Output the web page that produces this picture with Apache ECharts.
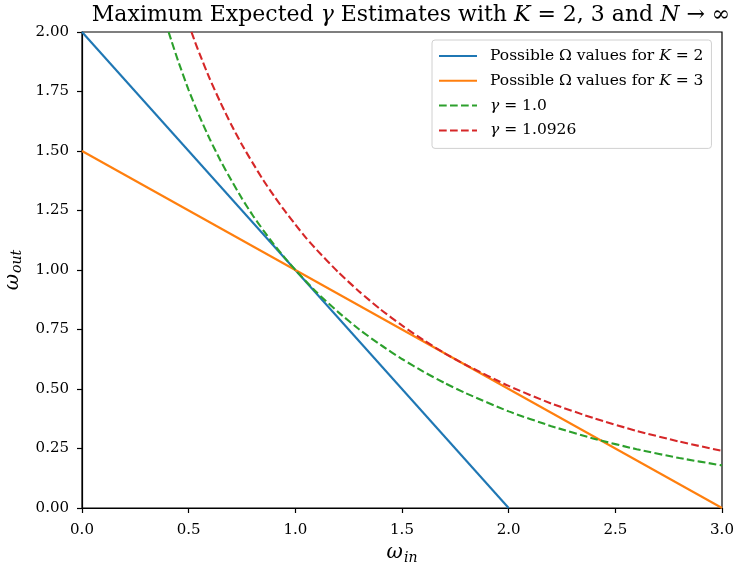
<!DOCTYPE html>
<html>
<head>
<meta charset="utf-8">
<script src="https://cdn.jsdelivr.net/npm/echarts@6/dist/echarts.min.js"></script>
<style>
  html, body { margin: 0; padding: 0; background: #fff; }
  #chart { width: 735px; height: 571px; }
</style>
</head>
<body>
<div id="chart"></div>
<script>
// Possible Omega values (straight lines)
const kTwoIn = [0, 2];
const kTwoOut = [2, 0];
const kThreeIn = [0, 3];
const kThreeOut = [1.5, 0];

// gamma = 1.0 iso-curve
const gammaOneIn = [0.406, 0.42, 0.45, 0.5, 0.55, 0.6, 0.65, 0.7, 0.75, 0.8, 0.85, 0.9, 0.95, 1.0,
  1.1, 1.2, 1.3, 1.4, 1.5, 1.6, 1.7, 1.8, 2.0, 2.2, 2.4, 2.6, 2.8, 3.0];
const gammaOneOut = [2.0, 1.961, 1.880, 1.756, 1.647, 1.548, 1.458, 1.377, 1.300, 1.230, 1.167, 1.107, 1.052, 1.0,
  0.906, 0.824, 0.750, 0.685, 0.626, 0.573, 0.525, 0.482, 0.406, 0.344, 0.291, 0.247, 0.210, 0.179];

// gamma = 1.0926 iso-curve
const gammaHiIn = [0.513, 0.53, 0.55, 0.6, 0.65, 0.7, 0.75, 0.8, 0.85, 0.9, 0.95, 1.0, 1.05, 1.1,
  1.2, 1.3, 1.4, 1.5, 1.6, 1.7, 1.8, 2.0, 2.2, 2.4, 2.6, 2.8, 3.0];
const gammaHiOut = [2.0, 1.958, 1.911, 1.801, 1.702, 1.610, 1.526, 1.450, 1.377, 1.311, 1.249, 1.191, 1.135, 1.085,
  0.992, 0.909, 0.834, 0.767, 0.706, 0.650, 0.601, 0.513, 0.439, 0.377, 0.324, 0.279, 0.240];

const xTicks = ['0.0', '0.5', '1.0', '1.5', '2.0', '2.5', '3.0'];
const yTicks = ['0.00', '0.25', '0.50', '0.75', '1.00', '1.25', '1.50', '1.75', '2.00'];

const seriesNames = ['kTwo', 'kThree', 'gOne', 'gHi'];

const zip = (xs, ys) => xs.map((x, i) => [x, ys[i]]);
const FONT = 'DejaVu Serif';

const chart = echarts.init(document.getElementById('chart'));

const legendLabels = {
  kTwo: '{n|Possible Ω values for }{i|K}{n| = 2}',
  kThree: '{n|Possible Ω values for }{i|K}{n| = 3}',
  gOne: '{i|γ}{n| = 1.0}',
  gHi: '{i|γ}{n| = 1.0926}'
};

const lineSeries = (name, data, color, dashed) => ({
  name,
  type: 'line',
  data,
  showSymbol: false,
  symbol: 'none',
  smooth: dashed ? 0.2 : false,
  clip: true,
  lineStyle: { color, width: 2.1, type: dashed ? [7.7, 3.3] : 'solid' },
  itemStyle: { color },
  emphasis: { disabled: true }
});

const mathRich = (size) => ({
  n: { fontFamily: FONT, fontSize: size, color: '#000', fontWeight: 'normal' },
  i: { fontFamily: FONT, fontSize: size, fontStyle: 'italic', color: '#000', fontWeight: 'normal' }
});

const nameRich = {
  w: { fontFamily: FONT, fontSize: 20, fontStyle: 'italic', color: '#000' },
  s: { fontFamily: FONT, fontSize: 14, fontStyle: 'italic', color: '#000', padding: [10, 0, 0, 1] }
};

chart.setOption({
  animation: false,
  backgroundColor: '#fff',
  title: {
    text: '{n|Maximum Expected }{i|γ}{n| Estimates with }{i|K}{n| = 2, 3 and }{i|N}{n| → ∞}',
    left: 406,
    top: -1,
    textAlign: 'center',
    textStyle: { fontWeight: 'normal', rich: mathRich(22) }
  },
  legend: {
    orient: 'vertical',
    left: 432,
    top: 40,
    padding: [8, 8, 10, 6],
    itemWidth: 38,
    itemHeight: 12,
    itemGap: 8.8,
    backgroundColor: 'rgba(255,255,255,0.8)',
    borderColor: '#d0d0d0',
    borderWidth: 1,
    borderRadius: 3,
    itemStyle: { opacity: 0 },
    data: seriesNames,
    formatter: (name) => legendLabels[name],
    textStyle: { padding: [0, 0, 0, 8], rich: mathRich(15.5) }
  },
  grid: {
    left: 82, right: 13, top: 32, bottom: 63,
    outerBoundsMode: 'none',
    containLabel: false,
    show: true, borderColor: '#000', borderWidth: 1.2, backgroundColor: 'transparent'
  },
  xAxis: {
    type: 'value',
    min: 0, max: 3, interval: 0.5,
    name: '{w|ω}{s|in}',
    nameLocation: 'middle',
    nameGap: 31,
    nameTextStyle: { rich: nameRich },
    axisLine: { show: true, lineStyle: { color: '#000', width: 1.2 } },
    axisTick: { show: true, length: 5, lineStyle: { color: '#000', width: 1.2 } },
    axisLabel: {
      color: '#000', fontFamily: FONT, fontSize: 15, margin: 15,
      formatter: (v) => xTicks[Math.round(v / 0.5)]
    },
    splitLine: { show: false }
  },
  yAxis: {
    type: 'value',
    min: 0, max: 2, interval: 0.25,
    name: '{w|ω}{s|out}',
    nameLocation: 'middle',
    nameRotate: 90,
    nameGap: 50,
    nameTextStyle: { rich: nameRich },
    axisLine: { show: true, lineStyle: { color: '#000', width: 1.2 } },
    axisTick: { show: true, length: 5, lineStyle: { color: '#000', width: 1.2 } },
    axisLabel: {
      color: '#000', fontFamily: FONT, fontSize: 15, margin: 13,
      formatter: (v) => yTicks[Math.round(v / 0.25)]
    },
    splitLine: { show: false }
  },
  series: [
    lineSeries('kTwo', zip(kTwoIn, kTwoOut), '#1f77b4', false),
    lineSeries('kThree', zip(kThreeIn, kThreeOut), '#ff7f0e', false),
    lineSeries('gOne', zip(gammaOneIn, gammaOneOut), '#2ca02c', true),
    lineSeries('gHi', zip(gammaHiIn, gammaHiOut), '#d62728', true)
  ]
});
</script>
</body>
</html>
